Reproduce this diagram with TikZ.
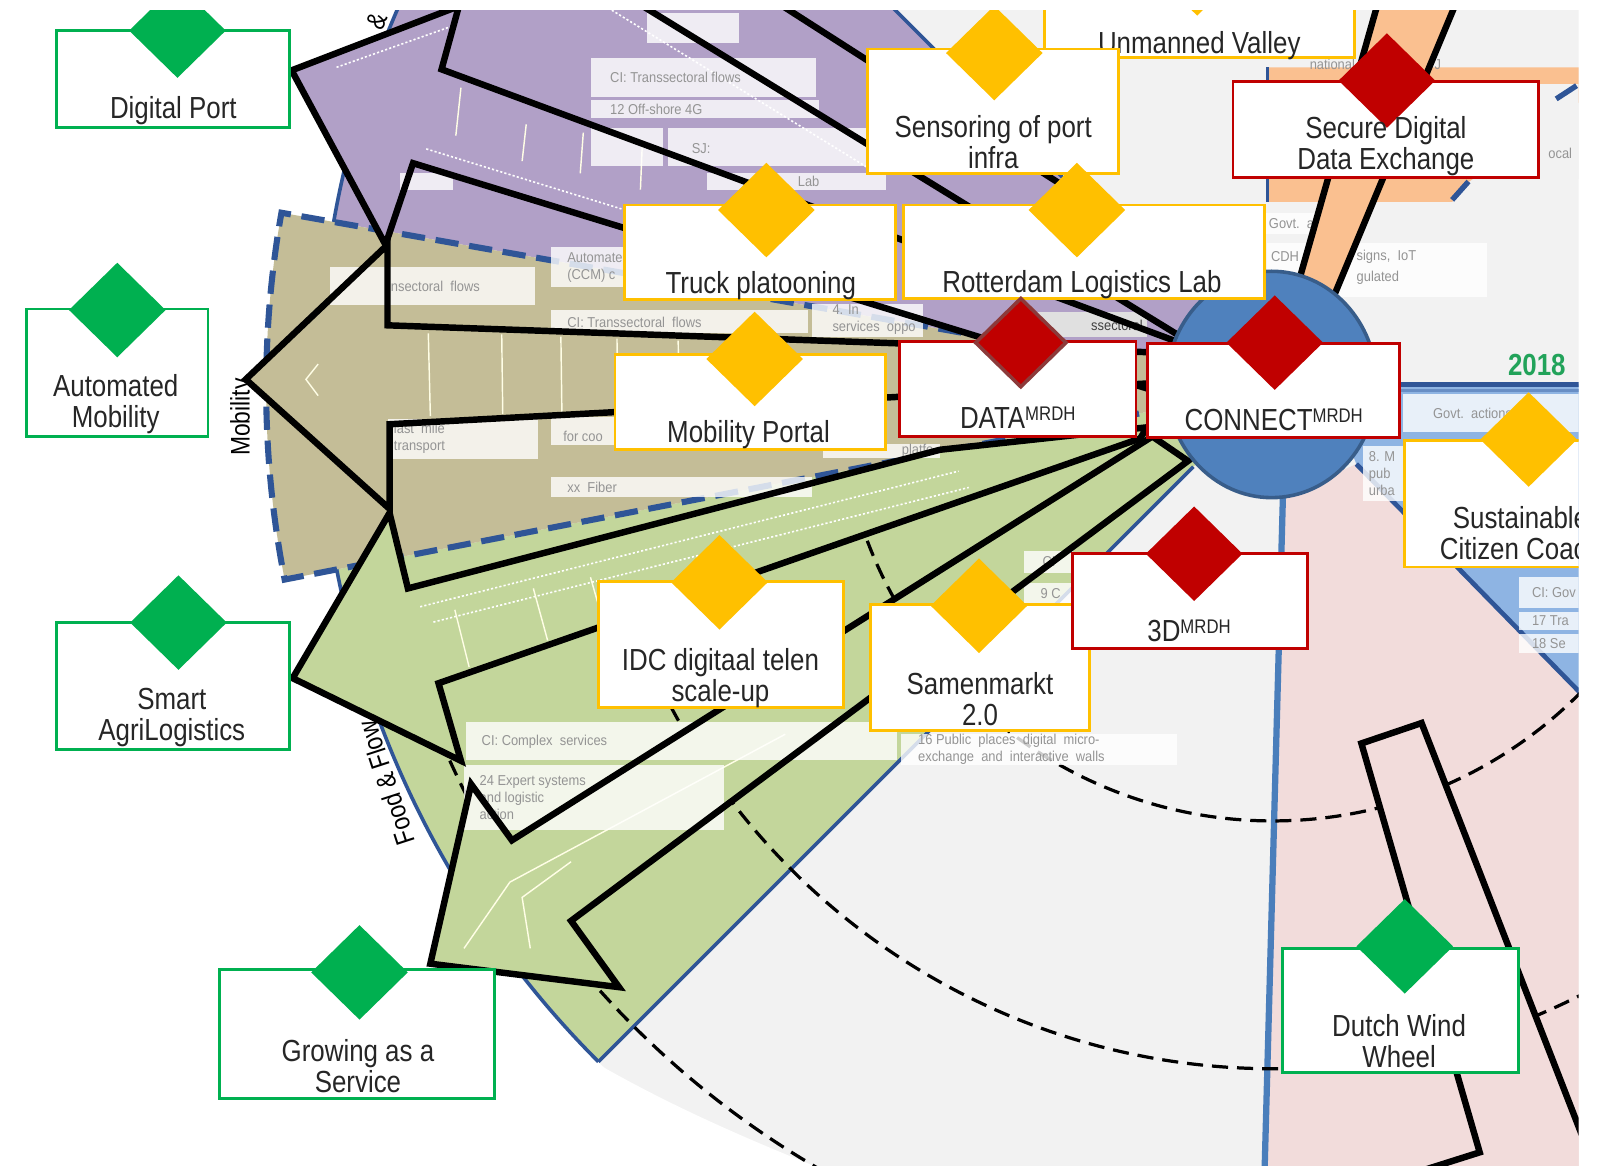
\documentclass[tikz,border=0pt]{standalone}
\usepackage{fontspec}
\setmainfont{Liberation Sans}[FakeStretch=0.85]
\newfontfamily\fnt{Liberation Sans}[FakeStretch=0.9]
\usetikzlibrary{shapes.geometric}
\definecolor{cpurp}{HTML}{B1A0C7}
\definecolor{ctan}{HTML}{C4BD97}
\definecolor{cgrn}{HTML}{C3D69B}
\definecolor{cpink}{HTML}{F2DCDB}
\definecolor{cpeach}{HTML}{FAC090}
\definecolor{clblue}{HTML}{8EB4E3}
\definecolor{cdblue}{HTML}{2F5597}
\definecolor{cmblue}{HTML}{4A7EBB}
\definecolor{chubf}{HTML}{4F81BD}
\definecolor{chubd}{HTML}{385D8A}
\definecolor{cbg}{HTML}{F2F2F2}
\definecolor{cgreen}{HTML}{00B050}
\definecolor{cyellow}{HTML}{FFC000}
\definecolor{cred}{HTML}{C00000}
\definecolor{cdred}{HTML}{8C3A3A}
\definecolor{cyear}{HTML}{22A35A}
\definecolor{ctxt}{HTML}{262626}
\newcommand\mrdh{\raisebox{4.3pt}{\fontsize{11}{11}\selectfont MRDH}}
\newcommand\shpAtwo[1]{\path[#1] (588,-20) -- (1200,356) -- (1200,283) -- (727,-20) -- cycle;}
\newcommand\shpAone[1]{\path[#1] (286,69) -- (450,6) -- (433,68) -- (1200,352) -- (1200,404) -- (405,160) -- (378,240) -- cycle;}
\newcommand\shpM[1]{\path[#1] (241,372) -- (380,240) -- (380,319) -- (1200,348) -- (1200,372) -- (382,416) -- (382,499) -- cycle;}
\newcommand\shpGone[1]{\path[#1] (287,665) -- (382,503) -- (400,577) -- (922,441) -- (1125,419) -- (1118,430) -- (430,670) -- (452,746) -- cycle;}
\newcommand\shpGtwo[1]{\path[#1] (422,945) -- (462,769) -- (502,824) -- (1130,428) -- (1165,452) -- (560,903) -- (607,968) -- cycle;}
\newcommand\shpP[1]{\path[#1] (1335,729) -- (1394,709) -- (1585,1200) -- (1350,1200) -- (1350,1162) -- (1451,1130) -- cycle;}
\tikzset{
  bx/.style={draw, fill=white, line width=1.6pt, inner sep=0pt},
  gbx/.style={bx, draw=cgreen},
  ybx/.style={bx, draw=cyellow},
  rbx/.style={bx, draw=cred},
  dia/.style={diamond, inner sep=0pt, minimum width=1.9cm, minimum height=1.86cm},
  gdia/.style={dia, fill=cgreen},
  ydia/.style={dia, fill=cyellow},
  rdia/.style={dia, fill=cred},
  lab/.style={text=ctxt, font=\fontsize{17}{17.3}\selectfont, inner sep=0pt},
  lab2/.style={lab, align=center},
  outl/.style={draw=black, line width=3.6pt, line join=miter},
  fbox/.style={fill=white, fill opacity=0.8},
  ftxt/.style={text=black!42, font=\fnt\fontsize{8}{9.5}\selectfont, inner sep=0pt, anchor=west, align=left},
  dsh/.style={black, line width=1.8pt, dash pattern=on 9pt off 5pt},
  bline/.style={cdblue, line width=2pt},
  sidelab/.style={text=black, font=\fontsize{15}{15}\selectfont, inner sep=0pt},
  decod/.style={white, line width=0.9pt, dash pattern=on 1.2pt off 1.2pt},
  decos/.style={white!90!yellow, line width=0.8pt},
}
\begin{document}
\begin{tikzpicture}[x=0.02cm,y=-0.02cm]
\useasboundingbox (0,0) rectangle (1568,1143);
\fill[white] (0,0) rectangle (1568,1143);
\begin{scope}
\clip (0,10) rectangle (1548,1143);
\coordinate (H) at (1248,380);
% background disc
\fill[cbg] (H) circle[radius=935];
\fill[white] (582,1041) .. controls (660,1086) and (735,1118) .. (815,1150) -- (0,1150) -- (0,1041) -- cycle;
% sectors
\fill[cpurp] (H) -- ++(190:935) arc[start angle=190,end angle=225,radius=935] -- cycle;
\fill[cgrn] (H) -- ++(135:935) arc[start angle=135,end angle=169,radius=935] -- cycle;
\fill[clblue] (1300,377) -- (1560,377) -- (1560,690) -- (1330,455) -- cycle;
\fill[cpink] (1258,488) -- (1330,455) -- (1560,690) -- (1560,1150) -- (1240,1150) -- cycle;
\fill[cpeach] (1242,66) -- (1560,66) -- (1560,92) -- (1438,180) -- (1424,198) -- (1242,198) -- cycle;
\fill[cbg] (1246,82) rectangle (1560,176);
\draw[bline] (1243,66) -- (1243,198);
\draw[cdblue, line width=3pt] (1526,97) -- (1546,84);
\draw[cdblue, line width=3pt] (1424,196) -- (1440,178);
% tan sector
\path[fill=ctan, draw=cdblue, line width=3.4pt, dash pattern=on 13pt off 6pt] (H) -- ++(169:987) arc[start angle=169,end angle=190,radius=987] -- cycle;
% blue boundaries
\draw[bline] (H) ++(135:110) -- ++(135:825);
\draw[bline] (H) ++(135:935) arc[start angle=135,end angle=169,radius=935];
\draw[bline] (H) ++(190:935) arc[start angle=190,end angle=215,radius=935];
\draw[bline] (H) ++(225:110) -- ++(225:825);
\draw[cdblue, line width=3pt] (1345,377) -- (1560,377);
\draw[clblue!60!cdblue, line width=2pt] (1360,383) -- (1560,383);
\draw[cdblue, line width=2.6pt] (1330,455) -- (1560,690);
\draw[cmblue, line width=3.5pt] (1258,488) -- (1240,1150);
% side labels
\node[sidelab, rotate=90] (mob) at (238,409) {Mobility};
\node[sidelab, rotate=108] (food) at (379,768) {Food \& Flow};
\node[sidelab, rotate=68] (amp) at (370,21) {\&};
% dashed rings
\draw[dsh] (H) ++(-2:425) arc[start angle=-2,end angle=162,radius=425];
\draw[dsh] (H) ++(60:668) arc[start angle=60,end angle=160,radius=668];
\draw[dsh] (H) ++(118:886) arc[start angle=118,end angle=157,radius=886];
% arrow fills
\shpAtwo{fill=cpurp}
\shpAone{fill=cpurp}
\shpM{fill=ctan}
\shpGone{fill=cgrn}
\shpGtwo{fill=cgrn}
\shpP{fill=cpink}
% decorative inner lines of the arrows
\draw[decod] (600,10) -- (860,170);
\draw[decod] (330,66) -- (445,25);
\draw[decod] (418,146) -- (870,285);
\draw[decos] (452,86) -- (447,133); \draw[decos] (516,122) -- (512,158);
\draw[decos] (572,130) -- (569,170); \draw[decos] (630,137) -- (628,186);
\draw[decos] (312,357) -- (300,372) -- (312,388);
\draw[decos] (420,327) -- (422,408); \draw[decos] (492,328) -- (493,406);
\draw[decos] (550,330) -- (551,404); \draw[decos] (605,332) -- (606,402);
\draw[decos] (665,334) -- (666,400);
\draw[decod] (412,595) -- (940,462);
\draw[decod] (425,610) -- (950,478);
\draw[decos] (446,598) -- (460,654); \draw[decos] (523,577) -- (537,628);
\draw[decos] (579,566) -- (593,615);
\draw[decos] (455,930) -- (500,865) -- (770,720);
\draw[decos] (520,930) -- (512,880) -- (560,845);
% faint background boxes
\fill[fbox] (634,13) rectangle (725,42);
\fill[fbox] (580,57) rectangle (800,95); \node[ftxt] (f2) at (598,76) {CI: Transsectoral flows};
\fill[fbox] (580,98) rectangle (803,116); \node[ftxt] (f3) at (598,107) {12 Off-shore 4G};
\fill[fbox] (580,126) rectangle (650,163);
\fill[fbox] (655,126) rectangle (851,163); \node[ftxt] (f5) at (678,146) {SJ:};
\fill[fbox] (693,170) rectangle (869,186); \node[ftxt] (f6) at (782,178) {Lab};
\fill[fbox] (392,170) rectangle (444,186);
\fill[fbox] (540,242) rectangle (617,281); \node[ftxt] (f8) at (556,262) {Automate\\(CCM) c};
\fill[fbox] (324,262) rectangle (525,299); \node[ftxt] (f10) at (383,281) {nsectoral\ \ flows};
\fill[fbox] (540,304) rectangle (792,327); \node[ftxt] (f11) at (556,316) {CI: Transsectoral\ \ flows};
\fill[fbox] (796,298) rectangle (905,330); \node[ftxt] (f12) at (816,313) {4. In\\services\ \ oppo};
\fill[black!12] (1000,306) rectangle (1125,330); \node[ftxt, text=black!75, anchor=east] (f13) at (1121,319) {ssectoral};
\fill[fbox] (380,411) rectangle (528,450); \node[ftxt] (f14) at (386,430) {last\ \ mile\\transport};
\fill[fbox] (540,409) rectangle (604,436); \node[ftxt] (f15) at (552,428) {for coo};
\fill[fbox] (540,468) rectangle (796,487); \node[ftxt] (f16) at (556,478) {xx\ \ Fiber};
\fill[fbox] (807,435) rectangle (922,449); \node[ftxt] (f17) at (884,442) {platfo};
\fill[fbox] (457,708) rectangle (880,745); \node[ftxt] (f18) at (472,727) {CI: Complex\ \ services};
\fill[fbox] (455,750) rectangle (710,814); \node[ftxt] (f19) at (470,782) {24 Expert systems\\and logistic\\action};
\fill[fbox] (884,720) rectangle (1154,750); \node[ftxt] (f20) at (900,735) {16 Public\ \ places\ \ digital\ \ micro-\\exchange\ \ and\ \ interactive\ \ walls};
\fill[fbox] (1004,540) rectangle (1052,562); \node[ftxt] (f21) at (1022,551) {CI};
\fill[fbox] (1004,572) rectangle (1052,591); \node[ftxt] (f21b) at (1020,582) {9 C};
\fill[fbox] (1376,386) rectangle (1560,424); \node[ftxt] (f22) at (1405,405) {Govt.\ \ actions};
\fill[fbox] (1337,437) rectangle (1380,491); \node[ftxt] (f23) at (1342,464) {8. M\\pub\\urba};
\fill[fbox] (1490,566) rectangle (1560,596); \node[ftxt] (f24) at (1502,581) {CI: Gov};
\fill[fbox] (1490,600) rectangle (1560,618); \node[ftxt] (f24b) at (1502,609) {17 Tra};
\fill[fbox] (1490,622) rectangle (1560,640); \node[ftxt] (f24c) at (1502,631) {18 Se};
\fill[fbox] (1240,209) rectangle (1295,229); \node[ftxt] (f25) at (1244,219) {Govt.\ \ acti};
\fill[fbox] (1242,238) rectangle (1458,291);
\node[ftxt] (f26a) at (1246,252) {CDH}; \node[ftxt] (f26b) at (1330,252) {signs,\ \ IoT}; \node[ftxt] (f26c) at (1330,272) {gulated};
\node[ftxt] (f27) at (1284,63) {national\ \ Peace\ \ and\ \ J};
\node[ftxt] (f28) at (1518,150) {ocal};
% arrow outlines
\shpAtwo{outl}
\shpAone{outl}
\shpM{outl}
\shpGone{outl}
\shpGtwo{outl}
\shpP{outl}
% peach band
\fill[cpeach] (1352,0) -- (1429,0) -- (1309,288) -- (1275,271) -- cycle;
\draw[outl] (1352,0) -- (1275,271);
\draw[outl] (1429,0) -- (1309,288);
% hub
\node[ellipse, draw=chubd, fill=chubf, line width=2pt, minimum width=4.12cm, minimum height=4.44cm] (hub) at (1247,377) {};
% green boxes
\node[gbx, minimum width=4.58cm, minimum height=1.9cm] (dp) at (169.5,77.5) {};
\node[gdia] (dpd) at (174,30) {};
\node[lab, anchor=base] (dpt) at (170,116) {Digital Port};
\node[gbx, minimum width=3.56cm, minimum height=2.5cm] (am) at (115,365.5) {};
\node[gdia] (amd) at (115,304) {};
\node[lab2] (amt) at (113.5,396) {Automated\\Mobility};
\node[gbx, minimum width=4.58cm, minimum height=2.5cm] (sa) at (169.5,672.5) {};
\node[gdia] (sad) at (175,610.5) {};
\node[lab2] (sat) at (168.5,704) {Smart\\AgriLogistics};
\node[gbx, minimum width=5.4cm, minimum height=2.52cm] (gs) at (350,1014) {};
\node[gdia] (gsd) at (352.5,953.5) {};
\node[lab2] (gst) at (351,1045) {Growing as a\\Service};
\node[gbx, minimum width=4.62cm, minimum height=2.44cm] (dw) at (1373.5,991) {};
\node[gdia] (dwd) at (1377.5,928) {};
\node[lab2] (dwt) at (1372,1021) {Dutch Wind\\Wheel};
% yellow boxes
\node[ybx, minimum width=6.08cm, minimum height=1.88cm] (uv) at (1176,9) {};
\node[ydia] (uvd) at (1174,-31) {};
\node[lab, anchor=base] (uvt) at (1176,52) {Unmanned Valley};
\node[ybx, minimum width=4.92cm, minimum height=2.44cm] (sp) at (974,109) {};
\node[ydia] (spd) at (975,52) {};
\node[lab2] (spt) at (974,139) {Sensoring of port\\infra};
\node[ybx, minimum width=5.32cm, minimum height=1.86cm] (tp) at (745,247.5) {};
\node[ydia] (tpd) at (751.5,206) {};
\node[lab, anchor=base] (tpt) at (746,288) {Truck platooning};
\node[ybx, minimum width=7.08cm, minimum height=1.84cm] (rl) at (1063,247) {};
\node[ydia] (rld) at (1056,206) {};
\node[lab, anchor=base] (rlt) at (1061,287) {Rotterdam Logistics Lab};
\node[ybx, minimum width=5.3cm, minimum height=1.86cm] (mp) at (735.5,394.5) {};
\node[ydia] (mpd) at (740,352) {};
\node[lab, anchor=base] (mpt) at (734,434) {Mobility Portal};
\node[ybx, minimum width=4.8cm, minimum height=2.48cm] (idc) at (707,632) {};
\node[ydia] (idcd) at (705.5,571) {};
\node[lab2] (idct) at (706.5,665) {IDC digitaal telen\\scale-up};
\node[ybx, minimum width=4.28cm, minimum height=2.46cm] (sm) at (961,654.5) {};
\node[ydia] (smd) at (960,594) {};
\node[lab2] (smt) at (961,686) {Samenmarkt\\2.0};
\node[ybx, minimum width=4.66cm, minimum height=2.48cm] (sc) at (1493.5,494) {};
\node[ydia] (scd) at (1499,431) {};
\node[lab2] (sct) at (1491,523) {Sustainable\\Citizen Coach};
% red boxes
\node[rbx, minimum width=6.0cm, minimum height=1.88cm] (sd) at (1359,127) {};
\node[rdia] (sdd) at (1360,79) {};
\node[lab2] (sdt) at (1359,143) {Secure Digital\\Data Exchange};
\node[rbx, minimum width=4.64cm, minimum height=1.86cm] (da) at (998,381.5) {};
\node[rdia, draw=cdred, line width=2pt, minimum width=1.8cm, minimum height=1.76cm] (dad) at (1001,336) {};
\node[lab, anchor=base] (dat) at (998,420) {DATA\mrdh};
\node[rbx, minimum width=4.94cm, minimum height=1.84cm] (co) at (1248.5,383) {};
\node[rdia] (cod) at (1250,336) {};
\node[lab, anchor=base] (cot) at (1249,422) {CONNECT\mrdh};
\node[rbx, minimum width=4.6cm, minimum height=1.86cm] (td) at (1167,589.5) {};
\node[rdia] (tdd) at (1171,543) {};
\node[lab, anchor=base] (tdt) at (1166,628.6) {3D\mrdh};
% year
\node[text=cyear, font=\bfseries\fontsize{17}{17}\selectfont, inner sep=0pt] (yr) at (1507,358) {2018};
\end{scope}
\end{tikzpicture}
\end{document}
